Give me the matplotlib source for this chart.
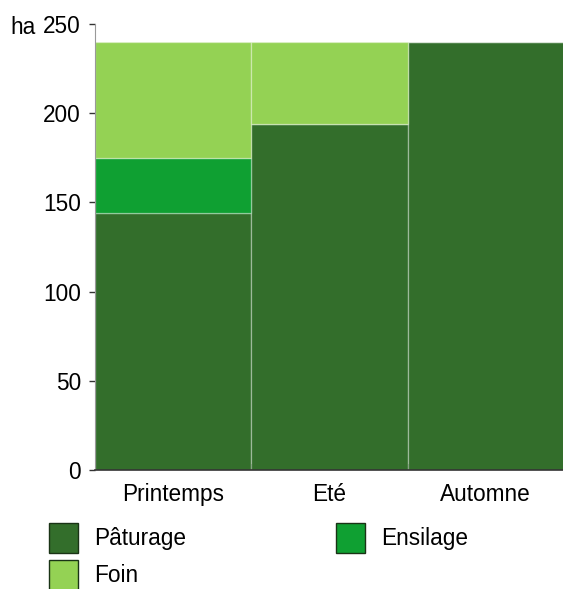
import matplotlib
matplotlib.use("Agg")
import matplotlib.pyplot as plt
import numpy as np
from matplotlib.patches import Patch

plt.rcParams["font.family"] = ["Liberation Sans", "DejaVu Sans"]

seasons = ["Printemps", "Eté", "Automne"]
paturage = [144, 194, 240]
ensilage = [31, 0, 0]
foin = [65, 46, 0]

series_names = ["Pâturage", "Ensilage", "Foin"]
series_colors = ["#336E2B", "#0FA032", "#94D254"]

FS = 16.3

fig = plt.figure(figsize=(5.63, 5.89), dpi=100)
ax = fig.add_axes([0.1687, 0.202, 0.833, 0.757])

x = np.arange(len(seasons))
bottom = np.zeros(len(seasons))
edge = (1, 1, 1, 0.3)
for vals, col in zip([paturage, ensilage, foin], series_colors):
    vals = np.array(vals, dtype=float)
    ax.bar(x, vals, width=1.0, bottom=bottom, color=col,
           edgecolor=edge, linewidth=1.0, zorder=2)
    bottom += vals

ax.set_xlim(-0.5, len(seasons) - 0.5)
ax.set_ylim(0, 250)
ax.set_yticks(np.arange(0, 251, 50))
ax.tick_params(axis="y", labelsize=FS, length=4, width=1, color="#333333", pad=6)

# category labels centred, small inward ticks at inner boundaries
ax.set_xticks(np.arange(1, len(seasons)) - 0.5)
ax.set_xticklabels([])
ax.tick_params(axis="x", direction="in", length=4, width=1.2, color="#222222")
ax.set_xticks(x, minor=True)
ax.set_xticklabels(seasons, minor=True, fontsize=FS)
ax.tick_params(axis="x", which="minor", length=0, pad=9)

for s in ["top", "right"]:
    ax.spines[s].set_visible(False)
ax.spines["left"].set_color("#999999")
ax.spines["bottom"].set_color("#333333")
ax.spines["bottom"].set_linewidth(1.2)
ax.spines["bottom"].set_zorder(3)

fig.text(0.018, 0.953, "ha", fontsize=FS, va="center", ha="left")

handles = [Patch(facecolor=c, edgecolor="#1A3316", linewidth=1.0, label=n)
           for n, c in zip(series_names, series_colors)]
order = [0, 2, 1]
fig.legend([handles[i] for i in order], [series_names[i] for i in order],
           ncol=2, loc="upper left", bbox_to_anchor=(0.087, 0.112),
           frameon=False, fontsize=FS, handlelength=1.3, handleheight=1.66,
           handletextpad=0.7, columnspacing=6.6, labelspacing=0.31,
           borderaxespad=0, borderpad=0)

fig.savefig("out.png", dpi=100)
